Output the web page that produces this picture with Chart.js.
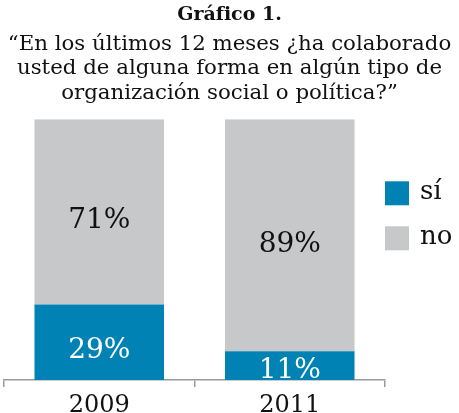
<!DOCTYPE html>
<html lang="es">
<head>
<meta charset="UTF-8">
<title>Gráfico 1</title>
<script src="https://cdn.jsdelivr.net/npm/chart.js"></script>
<style>
  html, body { margin: 0; padding: 0; background: #fff; }
  #wrap { width: 459px; height: 413px; }
</style>
</head>
<body>
<div id="wrap"><canvas id="chart"></canvas></div>
<script>
const years = ['2009', '2011'];
const siValues = [29, 11];
const noValues = [71, 89];
const seriesNames = ['sí', 'no'];

const SERIF = '"DejaVu Serif", "Liberation Serif", serif';

// titles span the whole canvas, not only the plot width
const wideTitles = {
  id: 'wideTitles',
  afterLayout(chart) {
    chart.boxes.forEach(b => {
      if (b.position === 'top' && b.options && b.options.text !== undefined) {
        b.left = 0;
        b.right = chart.width;
        b.width = chart.width;
      }
    });
  }
};

// writes the percentage in the middle of each bar piece
const barLabels = {
  id: 'barLabels',
  afterDatasetsDraw(chart) {
    const ctx = chart.ctx;
    ctx.save();
    ctx.font = '28px ' + SERIF;
    ctx.textAlign = 'center';
    ctx.textBaseline = 'middle';
    chart.data.datasets.forEach((ds, di) => {
      const meta = chart.getDatasetMeta(di);
      meta.data.forEach((bar, i) => {
        const p = bar.getProps(['x', 'y', 'base'], true);
        const y = Math.min((p.y + p.base) / 2 + 9, p.base - 9);
        ctx.fillStyle = di === 0 ? '#ffffff' : '#111111';
        ctx.fillText(ds.data[i] + '%', p.x, y);
      });
    });
    ctx.restore();
  }
};

// legend to the right of the plot, squares then names
const sideLegend = {
  id: 'sideLegend',
  afterDraw(chart) {
    const ctx = chart.ctx;
    const area = chart.chartArea;
    ctx.save();
    ctx.font = '26px ' + SERIF;
    ctx.textBaseline = 'middle';
    ctx.textAlign = 'left';
    chart.data.datasets.forEach((ds, i) => {
      const x = area.right;
      const y = area.top + 62 + i * 45;
      ctx.fillStyle = ds.backgroundColor;
      ctx.fillRect(x, y, 24, 24);
      ctx.fillStyle = '#111';
      ctx.fillText(ds.label, x + 35, y + 11);
    });
    ctx.restore();
  }
};

new Chart(document.getElementById('chart'), {
  type: 'bar',
  data: {
    labels: years,
    datasets: [
      { label: seriesNames[0], data: siValues, backgroundColor: '#0083b4' },
      { label: seriesNames[1], data: noValues, backgroundColor: '#c7c8ca' }
    ]
  },
  options: {
    responsive: true,
    maintainAspectRatio: false,
    animation: false,
    layout: { padding: { left: 4, right: 74, top: 4, bottom: 0 } },
    datasets: { bar: { categoryPercentage: 1, barPercentage: 0.68 } },
    scales: {
      x: {
        stacked: true,
        afterFit(scale) { scale.height = 33; },
        grid: { drawOnChartArea: false, drawTicks: true, tickLength: 7, color: '#9a9a9a', lineWidth: 1.5 },
        border: { display: true, color: '#9a9a9a', width: 1.5 },
        ticks: { color: '#111', font: { family: SERIF, size: 24, lineHeight: 0.57 }, padding: 12 }
      },
      y: { stacked: true, display: false, min: 0, max: 100 }
    },
    plugins: {
      tooltip: { enabled: false },
      legend: { display: false },
      title: {
        display: true,
        text: 'Gráfico 1.',
        color: '#111',
        font: { family: SERIF, size: 19, weight: 'bold', lineHeight: 1.2 },
        padding: { top: 0, bottom: 5 }
      },
      subtitle: {
        display: true,
        text: ['“En los últimos 12 meses ¿ha colaborado', 'usted de alguna forma en algún tipo de', 'organización social o política?”'],
        color: '#111',
        font: { family: SERIF, size: 21.3, lineHeight: 1.15 },
        padding: { top: 0, bottom: 14 }
      }
    }
  },
  plugins: [wideTitles, barLabels, sideLegend]
});
</script>
</body>
</html>
